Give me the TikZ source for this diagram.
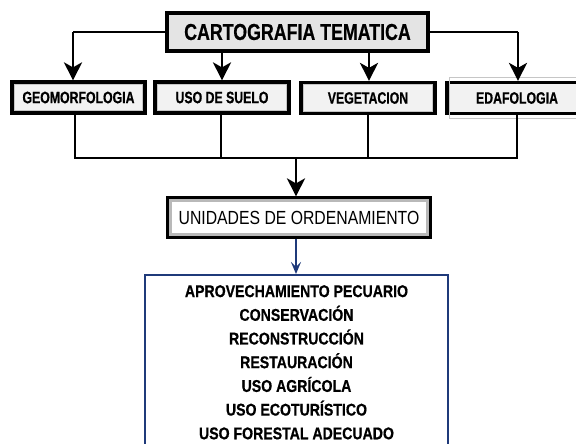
\documentclass[tikz,border=0pt]{standalone}
\usepackage{fontspec}
\setmainfont{Liberation Sans}
\newfontfamily\titlefont[FakeStretch=0.773,FakeBold=0.6]{Liberation Sans Bold}
\newfontfamily\boxfont[FakeStretch=0.745,FakeBold=0.6]{Liberation Sans Bold}
\newfontfamily\unidfont[FakeStretch=0.83]{Liberation Sans}
\newfontfamily\listfont[FakeStretch=0.83,FakeBold=0.6]{Liberation Sans Bold}
\usetikzlibrary{arrows.meta}
\definecolor{navy}{HTML}{1F3A7A}
\definecolor{boxfill}{HTML}{F2F2F2}
\definecolor{titlefill}{HTML}{E4E4E4}
\tikzset{
  bigarrow/.style={line width=2.8pt, -{Stealth[length=18pt,width=18pt,inset=5pt]}},
  busline/.style={line width=2.8pt},
  titlebox/.style={draw=black, line width=3.2pt, fill=titlefill, minimum width=261pt, minimum height=38pt, inner sep=0pt, font=\titlefont\fontsize{23}{26}\selectfont},
  smallbox/.style={draw=black, line width=3.2pt, fill=boxfill, minimum height=31pt, inner sep=0pt, font=\boxfont\fontsize{16.5}{19}\selectfont},
  unidbox/.style={draw=black, line width=3.2pt, fill=white, minimum width=262pt, minimum height=39pt, inner sep=0pt, font=\unidfont\fontsize{19}{22}\selectfont},
  bluebox/.style={draw=navy, line width=2.2pt, fill=white, minimum width=303pt, minimum height=200pt, inner sep=0pt},
  bluearrow/.style={draw=navy, line width=2pt, -{Stealth[length=12pt,width=10pt,inset=5pt]}},
  listtext/.style={align=center, inner sep=0pt, font=\listfont\fontsize{17}{23.7}\selectfont}
}
\begin{document}
\begin{tikzpicture}[x=1pt,y=-1pt]
\useasboundingbox (0,0) rectangle (576,444);
\clip (0,0) rectangle (576,444);
% top bus
\coordinate (t1) at (73,32);
\coordinate (t2) at (222,32);
\coordinate (t3) at (369,32);
\coordinate (t4) at (518,32);
\draw[busline] (t1) -- (t4);
\node[titlebox] (title) at (297.5,32) {CARTOGRAFIA TEMATICA};
% small boxes
\node[smallbox, minimum width=133pt] (geo) at (78.5,97.5) {GEOMORFOLOGIA};
\node[smallbox, minimum width=134pt] (uso) at (222,97.5) {USO DE SUELO};
\node[smallbox, minimum width=134pt] (veg) at (368,98) {VEGETACION};
\node[smallbox, minimum width=140pt] (eda) at (517,98) {EDAFOLOGIA};
\foreach \b in {geo,uso,veg}{
  \draw[gray!45, line width=1pt] ([shift={(3.8pt,-3.8pt)}]\b.north west) rectangle ([shift={(-3.8pt,3.8pt)}]\b.south east);
}
\draw[gray!45, line width=1pt] ([shift={(3.8pt,-3.8pt)}]eda.south west) -- ([shift={(3.8pt,3.8pt)}]eda.north west) -- ([shift={(0pt,3.8pt)}]eda.north east);
\draw[gray!45, line width=1pt] ([shift={(3.8pt,-3.8pt)}]eda.south west) -- ([shift={(0pt,-3.8pt)}]eda.south east);
% arrows to small boxes
\draw[bigarrow] (t1) -- (t1 |- geo.north);
\draw[bigarrow] (t2 |- title.south) -- (t2 |- uso.north);
\draw[bigarrow] (t3 |- title.south) -- (t3 |- veg.north);
\draw[bigarrow] (t4) -- (t4 |- eda.north);
% bottom bus
\coordinate (b1) at (75,158);
\coordinate (b2) at (221,158);
\coordinate (b3) at (368,158);
\coordinate (b4) at (517,158);
\coordinate (bm) at (296,158);
\draw[busline] (b1 |- geo.south) -- (b1) -- (b4) -- (b4 |- eda.south);
\draw[busline] (b2 |- uso.south) -- (b2);
\draw[busline] (b3 |- veg.south) -- (b3);
% unidades box
\node[unidbox] (unid) at (299,217.5) {UNIDADES DE ORDENAMIENTO};
\draw[gray!55, line width=2.6pt] ([shift={(4pt,-4pt)}]unid.north west) rectangle ([shift={(-4pt,4pt)}]unid.south east);
\draw[bigarrow] (bm) -- (bm |- unid.north);
% blue list box
\node[bluebox, anchor=north] (frame) at (296.5,274) {};
\draw[bluearrow] (unid.south -| bm) -- (bm |- frame.north);
\node[listtext, anchor=north] (lst) at ([yshift=-11pt]frame.north) {APROVECHAMIENTO PECUARIO\\CONSERVACIÓN\\RECONSTRUCCIÓN\\RESTAURACIÓN\\USO AGRÍCOLA\\USO ECOTURÍSTICO\\USO FORESTAL ADECUADO};
\end{tikzpicture}
\end{document}
